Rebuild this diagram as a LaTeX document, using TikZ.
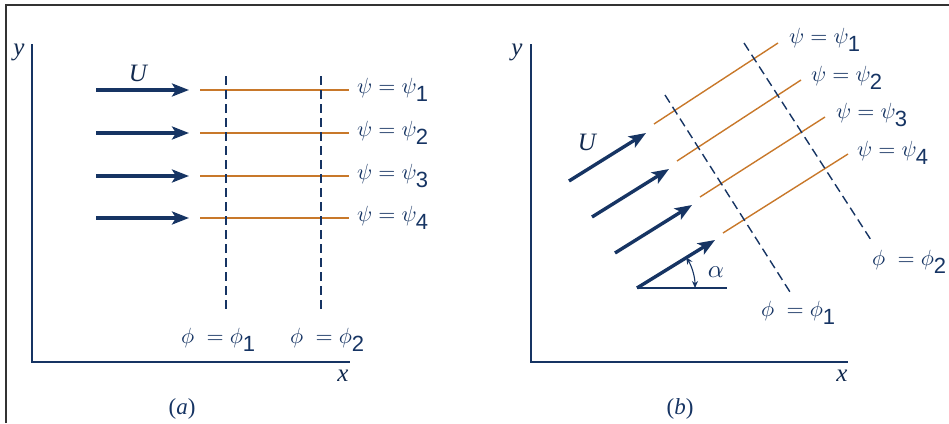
\documentclass[tikz,border=0pt]{standalone}
\usepackage{fontspec}
\setmainfont{Liberation Serif}
\setsansfont{Liberation Sans}
\usetikzlibrary{arrows.meta}
\definecolor{navy}{HTML}{163463}
\definecolor{streamc}{HTML}{C8782A}
\definecolor{framec}{HTML}{333333}
\tikzset{
  flow/.style={navy, line width=3.4pt, -{Stealth[length=17pt,width=13pt,inset=4pt]}},
  axis/.style={navy, line width=1.8pt},
  stream/.style={streamc, line width=1.7pt},
  potl/.style={navy, line width=1.4pt, dash pattern=on 9pt off 5pt},
  lab/.style={inner sep=0pt, anchor=west, font=\fontsize{10}{12}\selectfont, text=navy},
  axlab/.style={inner sep=0pt, font=\fontsize{25}{28}\selectfont\itshape, text=navy!80!black},
}
\newcommand{\sbs}[1]{_{\textsf{#1}}}
\newcommand{\mlbl}[1]{\scalebox{2.2}{$#1$}}
\begin{document}
\begin{tikzpicture}[x=1pt,y=-1pt]
\useasboundingbox (0,0) rectangle (949,423);
% frame
\coordinate (fa) at (6,423);
\coordinate (fb) at (6,5);
\coordinate (fc) at (949,5);
\draw[framec, line width=1.5pt] (fa) -- (fb) -- (fc);

% ---------- panel (a)
\coordinate (ay) at (32,44);
\coordinate (ao) at (32,362);
\coordinate (ax) at (350,362);
\draw[axis] (ay) -- (ao) -- (ax);
\node[axlab] (ylA) at (19,52) {y};
\node[axlab] (xlA) at (343,376) {x};
\node[axlab] (ulA) at (138,73) {U};
\node[inner sep=0pt, font=\fontsize{23}{26}\selectfont, text=navy] (capA) at (182,409) {(\textit{a})};

\foreach \i/\yy in {1/90,2/133,3/176,4/218}{
  \coordinate (as\i) at (96,\yy);
  \coordinate (ae\i) at (189,\yy);
  \draw[flow] (as\i) -- (ae\i);
  \coordinate (ls\i) at (200,\yy);
  \coordinate (le\i) at (349,\yy);
  \draw[stream] (ls\i) -- (le\i);
  \node[lab] (psiA\i) at (357,\yy) {\mlbl{\psi = \psi\sbs{\i}}};
}
\coordinate (d1t) at (226,76); \coordinate (d1b) at (226,310);
\coordinate (d2t) at (321,76); \coordinate (d2b) at (321,310);
\draw[potl] (d1t) -- (d1b);
\draw[potl] (d2t) -- (d2b);
\node[lab] (phiA1) at (181,340) {\mlbl{\phi\; = \phi\sbs{1}}};
\node[lab] (phiA2) at (290,340) {\mlbl{\phi\; = \phi\sbs{2}}};

% ---------- panel (b)
\coordinate (by) at (531,44);
\coordinate (bo) at (531,362);
\coordinate (bx) at (848,362);
\draw[axis] (by) -- (bo) -- (bx);
\node[axlab] (ylB) at (517,52) {y};
\node[axlab] (xlB) at (842,376) {x};
\node[axlab] (ulB) at (587,142) {U};
\node[inner sep=0pt, font=\fontsize{23}{26}\selectfont, text=navy] (capB) at (680,409) {(\textit{b})};

\coordinate (bs1) at (569,181); \coordinate (be1) at (646,133);
\coordinate (bs2) at (592,217); \coordinate (be2) at (669,169);
\coordinate (bs3) at (615,253); \coordinate (be3) at (692,205);
\coordinate (bs4) at (637,288); \coordinate (be4) at (715,240);
\foreach \i in {1,2,3,4}{ \draw[flow] (bs\i) -- (be\i); }
\coordinate (hz) at (727,288);
\draw[navy, line width=1.4pt] (bs4) -- (hz);
\draw[navy, line width=1.1pt, {Stealth[length=7pt,width=6pt]}-{Stealth[length=7pt,width=6pt]}]
  ([shift={(32:58pt)}]bs4) arc[start angle=32, end angle=0, radius=58pt];
\node[inner sep=0pt, font=\fontsize{10}{12}\selectfont, text=navy] (alB) at (716,272) {\scalebox{2.5}{$\alpha$}};

\coordinate (ms1) at (654,124); \coordinate (me1) at (778,43);
\coordinate (ms2) at (677,161); \coordinate (me2) at (801,80);
\coordinate (ms3) at (700,197); \coordinate (me3) at (825,117);
\coordinate (ms4) at (723,233); \coordinate (me4) at (848,154);
\foreach \i in {1,2,3,4}{ \draw[streamc, line width=1.4pt] (ms\i) -- (me\i); }
\node[lab] (psiB1) at (789,40) {\mlbl{\psi = \psi\sbs{1}}};
\node[lab] (psiB2) at (811,78) {\mlbl{\psi = \psi\sbs{2}}};
\node[lab] (psiB3) at (836,115) {\mlbl{\psi = \psi\sbs{3}}};
\node[lab] (psiB4) at (857,153) {\mlbl{\psi = \psi\sbs{4}}};

\coordinate (p1t) at (665,95); \coordinate (p1b) at (790,292);
\coordinate (p2t) at (744,43); \coordinate (p2b) at (871,240);
\draw[potl] (p1t) -- (p1b);
\draw[potl] (p2t) -- (p2b);
\node[lab] (phiB1) at (761,313) {\mlbl{\phi\; = \phi\sbs{1}}};
\node[lab] (phiB2) at (872,262) {\mlbl{\phi\; = \phi\sbs{2}}};
\end{tikzpicture}
\end{document}
